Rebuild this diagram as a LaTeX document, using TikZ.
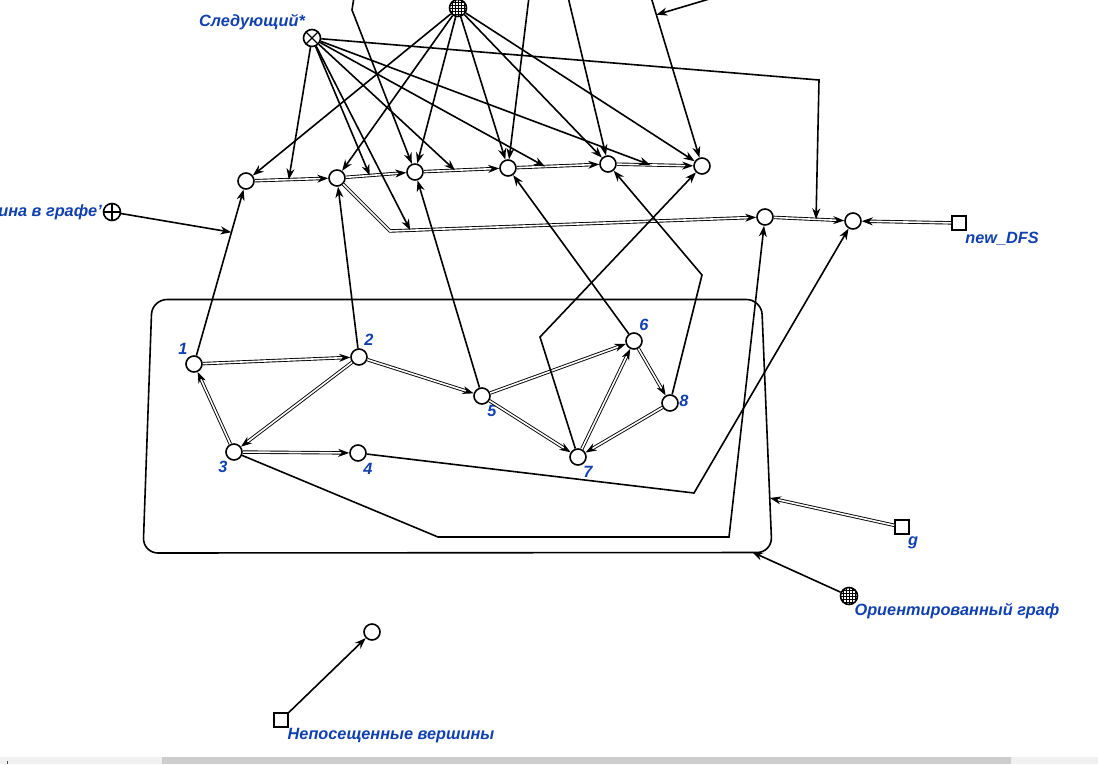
\documentclass[tikz,border=0pt]{standalone}
\usepackage{fontspec}
\setmainfont{Liberation Sans}
\usetikzlibrary{arrows.meta,calc}
\definecolor{lbl}{RGB}{16,64,176}
\definecolor{sbl}{RGB}{240,240,240}
\definecolor{sbd}{RGB}{205,205,205}
\begin{document}
\begin{tikzpicture}[x=1pt,y=-1pt,
  v/.style={circle,draw,line width=1.6pt,fill=white,minimum size=16pt,inner sep=0pt},
  sq/.style={rectangle,draw,line width=1.6pt,fill=white,minimum size=14pt,inner sep=0pt},
  hatch/.style={v,minimum size=17pt,path picture={
    \foreach \k in {-6,-3,0,3,6}{
      \draw[line width=0.7pt] ([shift={(\k,-10)}]path picture bounding box.center) -- ([shift={(\k,10)}]path picture bounding box.center);
      \draw[line width=0.7pt] ([shift={(-10,\k)}]path picture bounding box.center) -- ([shift={(10,\k)}]path picture bounding box.center);}}},
  xnode/.style={v,minimum size=17pt,path picture={
      \draw[line width=1.3pt] (path picture bounding box.north west) -- (path picture bounding box.south east);
      \draw[line width=1.3pt] (path picture bounding box.north east) -- (path picture bounding box.south west);}},
  pnode/.style={v,minimum size=17pt,path picture={
      \draw[line width=1.3pt] (path picture bounding box.north) -- (path picture bounding box.south);
      \draw[line width=1.3pt] (path picture bounding box.east) -- (path picture bounding box.west);}},
  ed/.style={line width=1.6pt,-{Stealth[length=11pt,width=8pt,inset=3.5pt]}},
  ln/.style={line width=1.6pt},
  dbl/.style={double=white,double distance=1.6pt,line width=0.9pt,-{Stealth[length=11pt,width=8pt,inset=3.5pt]}},
  lab/.style={text=lbl,font=\bfseries\itshape\fontsize{16.3}{19}\selectfont,inner sep=0pt}
]
\useasboundingbox (0,0) rectangle (1098,764);
% scrollbar
\fill[sbl] (0,757) rectangle (1098,764);
\fill[sbd] (162,757) rectangle (1011,764);
\fill[black!70] (6.5,761) rectangle (8,764);

% oriented graph frame
\coordinate (rTL) at (152,299.5);
\coordinate (rTR) at (761.5,299.5);
\coordinate (rBR) at (772,552.5);
\coordinate (rBL) at (143,553);
\draw[ln,rounded corners=15pt] (rTL) -- (rTR) -- (rBR) -- (rBL) -- cycle;
\coordinate (rg) at (770,498);
\coordinate (ro) at (752,552);

% top nodes
\node[xnode] (S) at (312,38) {};
\node[hatch] (T) at (458,8) {};
\node[pnode] (P) at (112,212) {};
\node[sq] (N) at (959,223) {};
\node[v] (A) at (246,181) {};
\node[v] (B) at (337,178) {};
\node[v] (C) at (415,172) {};
\node[v] (D) at (508,168) {};
\node[v] (E) at (608,164) {};
\node[v] (F) at (702,166) {};
\node[v] (G) at (765,217) {};
\node[v] (H) at (853,221) {};

% graph nodes
\node[v] (g1) at (194,364) {};
\node[v] (g2) at (359,357) {};
\node[v] (g3) at (234,452) {};
\node[v] (g4) at (358,453) {};
\node[v] (g5) at (482,396) {};
\node[v] (g6) at (634,341) {};
\node[v] (g7) at (578,457) {};
\node[v] (g8) at (670,403) {};

\node[sq] (gs) at (902,527) {};
\node[hatch] (O) at (849,596) {};
\node[v] (U) at (372,632) {};
\node[sq] (Q) at (281,720) {};

% labels
\node[lab] (lS) at (252,22) {Следующий*};
\node[lab,anchor=east] (lP) at (102,212) {ина в графе'};
\node[lab] (lN) at (1002,239) {new\_DFS};
\node[lab] (lg) at (913,543) {g};
\node[lab] (lO) at (957,611) {Ориентированный граф};
\node[lab] (lQ) at (391,736) {Непосещенные вершины};
\node[lab] (l1) at (183,349) {1};
\node[lab] (l2) at (369,340) {2};
\node[lab] (l3) at (223,467) {3};
\node[lab] (l4) at (368,469) {4};
\node[lab] (l5) at (492,411) {5};
\node[lab] (l6) at (644,325) {6};
\node[lab] (l7) at (588,472) {7};
\node[lab] (l8) at (684,401) {8};

% bend points and free ends
\coordinate (bgb) at (390,231);
\coordinate (b7) at (540,337);
\coordinate (b8) at (702,275);
\coordinate (b4) at (694,493);
\coordinate (b3a) at (438,537);
\coordinate (b3b) at (729,537);
\coordinate (bS) at (819,80);
\coordinate (t1) at (354,-3);
\coordinate (t1b) at (352,10);
\coordinate (t2) at (529,-3);
\coordinate (t3) at (568,-3);
\coordinate (t4) at (651,-3);
\coordinate (t5) at (716,-3);

% double edges
\draw[dbl] (A) -- (B);
\draw[dbl] (B) -- (C);
\draw[dbl] (C) -- (D);
\draw[dbl] (D) -- (E);
\draw[dbl] (E) -- (F);
\draw[dbl] (B) -- (bgb) -- (G);
\draw[dbl] (G) -- (H);
\draw[dbl] (N) -- (H);
\draw[dbl] (gs) -- (rg);
\draw[dbl] (g1) -- (g2);
\draw[dbl] (g2) -- (g3);
\draw[dbl] (g2) -- (g5);
\draw[dbl] (g3) -- (g1);
\draw[dbl] (g3) -- (g4);
\draw[dbl] (g5) -- (g6);
\draw[dbl] (g5) -- (g7);
\draw[dbl] (g7) -- (g6);
\draw[dbl] (g6) -- (g8);
\draw[dbl] (g8) -- (g7);

% points on edges
\coordinate (ab) at ($(A)!0.47!(B)$);
\coordinate (bc) at ($(B)!0.42!(C)$);
\coordinate (cd) at ($(C)!0.43!(D)$);
\coordinate (de) at ($(D)!0.37!(E)$);
\coordinate (ef) at ($(E)!0.45!(F)$);
\coordinate (bg) at ($(bgb)!0.054!(G)$);
\coordinate (gh) at ($(G)!0.58!(H)$);
\coordinate (p1) at ($(g1)!0.72!(A)$);
\coordinate (t45) at ($(t4)!0.105!(F)$);

% single edges
\draw[ed] (T) -- (A);
\draw[ed] (T) -- (B);
\draw[ed] (T) -- (C);
\draw[ed] (T) -- (D);
\draw[ed] (T) -- (E);
\draw[ed] (T) -- (F);
\draw[ed] (S) -- (ab);
\draw[ed] (S) -- (bc);
\draw[ed] (S) -- (cd);
\draw[ed] (S) -- (de);
\draw[ed] (S) -- (ef);
\draw[ed] (S) -- (bg);
\draw[ed] (S) -- (bS) -- (gh);
\draw[ed] (t1) -- (t1b) -- (C);
\draw[ed] (t2) -- (D);
\draw[ed] (t3) -- (E);
\draw[ed] (t4) -- (F);
\draw[ed] (t5) -- (t45);
\draw[ed] (P) -- (p1);
\draw[ed] (g1) -- (A);
\draw[ed] (g2) -- (B);
\draw[ed] (g5) -- (C);
\draw[ed] (g6) -- (D);
\draw[ed] (g7) -- (b7) -- (F);
\draw[ed] (g8) -- (b8) -- (E);
\draw[ed] (g4) -- (b4) -- (H);
\draw[ed] (g3) -- (b3a) -- (b3b) -- (G);
\draw[ed] (O) -- (ro);
\draw[ed] (Q) -- (U);
\end{tikzpicture}
\end{document}
